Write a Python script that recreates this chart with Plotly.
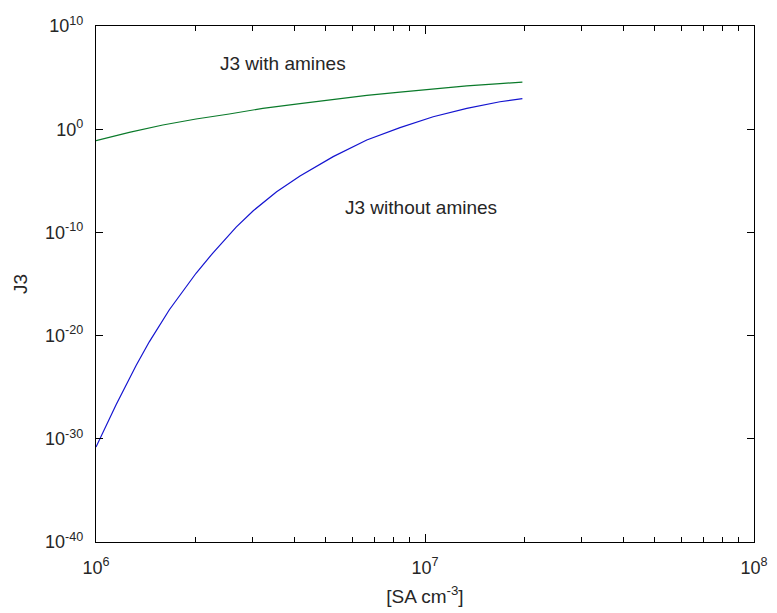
import plotly.graph_objects as go

# Sulfuric acid concentration [cm^-3] and nucleation rate J3 with amines
sa_with = [1.0e6, 1.262e6, 1.596e6, 2.014e6, 2.541e6, 3.214e6, 4.169e6,
           5.260e6, 6.653e6, 8.395e6, 1.059e7, 1.340e7, 1.690e7, 1.977e7]
j3_with_amines = [0.0776, 0.501, 2.57, 9.77, 29.5, 104.7, 295,
                  794, 1905, 3981, 8318, 15490, 25700, 37150]

# Sulfuric acid concentration [cm^-3] and nucleation rate J3 without amines
sa_without = [1.0e6, 1.151e6, 1.324e6, 1.452e6, 1.671e6, 2.014e6, 2.265e6, 2.667e6, 3.006e6,
              3.540e6, 4.169e6, 5.260e6, 6.653e6, 8.395e6, 1.059e7, 1.340e7, 1.690e7, 1.977e7]
j3_without_amines = [1.58e-31, 2.0e-27, 1.26e-23, 2.5e-21, 3.2e-18, 1.1e-14, 1.0e-12, 3.2e-10, 1.26e-8,
                     8.7e-7, 2.95e-5, 2.2e-3, 8.9e-2, 1.41, 16.2, 105, 457, 912]

# Axis tick positions and labels
x_tickvals = [1e6, 1e7, 1e8]
x_ticktext = ["10<sup>6</sup>", "10<sup>7</sup>", "10<sup>8</sup>"]
y_tickvals = [1e-40, 1e-30, 1e-20, 1e-10, 1e0, 1e10]
y_ticktext = ["10<sup>-40</sup>", "10<sup>-30</sup>", "10<sup>-20</sup>",
              "10<sup>-10</sup>", "10<sup>0</sup>", "10<sup>10</sup>"]

font_family = "Liberation Sans, Arial, sans-serif"
ink = "#262626"

fig = go.Figure()
fig.add_trace(go.Scatter(x=sa_with, y=j3_with_amines, mode="lines",
                         line=dict(color="#0a7a2a", width=1.2), name="J3 with amines"))
fig.add_trace(go.Scatter(x=sa_without, y=j3_without_amines, mode="lines",
                         line=dict(color="#1414d0", width=1.2), name="J3 without amines"))

fig.add_annotation(x=6.568, y=6.41, xref="x", yref="y", text="J3 with amines",
                   showarrow=False, font=dict(size=19, color=ink, family=font_family))
fig.add_annotation(x=6.988, y=-7.6, xref="x", yref="y", text="J3 without amines",
                   showarrow=False, font=dict(size=19, color=ink, family=font_family))

fig.update_layout(
    width=777, height=613,
    margin=dict(l=96, r=23, t=26, b=71),
    paper_bgcolor="white", plot_bgcolor="white",
    showlegend=False,
    font=dict(family=font_family, size=18, color=ink),
)
fig.update_xaxes(
    type="log", range=[6, 8], automargin=False,
    tickmode="array", tickvals=x_tickvals, ticktext=x_ticktext,
    showgrid=False, zeroline=False,
    showline=True, linecolor="black", linewidth=1.3, mirror="ticks",
    ticks="inside", ticklen=8, tickcolor="black", tickwidth=1.2,
    minor=dict(ticks="inside", ticklen=5, tickcolor="black", tickwidth=1.2,
               dtick="D1", showgrid=False),
    tickfont=dict(size=18, color=ink), ticklabelstandoff=9,
    title=dict(text="[SA cm<sup>-3</sup>]", font=dict(size=19, color=ink), standoff=12),
)
fig.update_yaxes(
    type="log", range=[-40, 10], automargin=False,
    tickmode="array", tickvals=y_tickvals, ticktext=y_ticktext,
    showgrid=False, zeroline=False,
    showline=True, linecolor="black", linewidth=1.3, mirror="ticks",
    ticks="inside", ticklen=7, tickcolor="black", tickwidth=1.2,
    tickfont=dict(size=18, color=ink), ticklabelstandoff=8,
    title=dict(text="J3", font=dict(size=19, color=ink), standoff=12),
)

fig.write_html("out.html")
